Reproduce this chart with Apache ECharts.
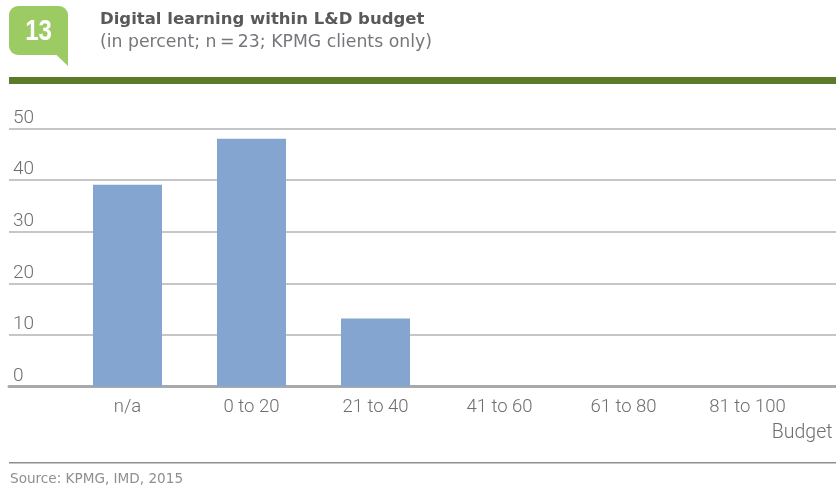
<!DOCTYPE html>
<html>
<head>
<meta charset="utf-8">
<script src="https://cdn.jsdelivr.net/npm/echarts@6/dist/echarts.min.js"></script>
<style>
  html, body { margin: 0; padding: 0; background: #ffffff; }
  #chart { width: 836px; height: 489px; }
</style>
</head>
<body>
<div id="chart"></div>
<script>
// Share of digital learning in the L&D budget (percent of respondents)
const categories = ['n/a', '0 to 20', '21 to 40', '41 to 60', '61 to 80', '81 to 100'];
const shares = [39.1, 48.0, 13.2, 0, 0, 0];
const yTicks = [0, 10, 20, 30, 40, 50];

const figureNo = '13';
const titleText = 'Digital learning within L&D budget';
const subtitleText = '(in percent; n\u2009=\u200923; KPMG clients only)';
const axisTitle = 'Budget';
const sourceText = 'Source: KPMG, IMD, 2015';

const FONT = 'Roboto, "Liberation Sans", Arial, sans-serif';
const SANS = '"Liberation Sans", Arial, sans-serif';
const WIDE = '"DejaVu Sans", "Liberation Sans", sans-serif';
const TEXT_GREY = '#6d6e71';

const chart = echarts.init(document.getElementById('chart'), null, { renderer: 'canvas' });

const yMin = yTicks[0];
const yMax = yTicks[yTicks.length - 1];
const yStep = yTicks[1] - yTicks[0];

chart.setOption({
  animation: false,
  backgroundColor: '#ffffff',
  grid: [
    // full-width grid carrying the gridlines, tick labels and base line
    { left: 9, right: 0, top: 128.5, bottom: 102.5 },
    // narrower grid carrying the bars and category labels
    { left: 65.5, right: 26.5, top: 128.5, bottom: 102.5 }
  ],
  xAxis: [
    {
      gridIndex: 0, type: 'value', min: 0, max: 1,
      axisLine: { show: true, lineStyle: { color: '#a7a9ac', width: 3 } },
      axisTick: { show: false }, axisLabel: { show: false }, splitLine: { show: false }
    },
    {
      gridIndex: 1, type: 'category', data: categories,
      axisLine: { show: false }, axisTick: { show: false },
      axisLabel: {
        margin: 11, color: TEXT_GREY, fontSize: 18.5, fontFamily: FONT, fontWeight: 300
      }
    }
  ],
  yAxis: [
    {
      gridIndex: 0, type: 'value', min: yMin, max: yMax, interval: yStep,
      axisLine: { show: false }, axisTick: { show: false },
      axisLabel: {
        inside: true, margin: 4, color: TEXT_GREY, fontSize: 19, fontFamily: FONT,
        fontWeight: 300, align: 'left', verticalAlign: 'bottom', padding: [0, 0, 1, 0]
      },
      splitLine: { show: true, lineStyle: { color: '#b1b3b5', width: 1.5 } }
    },
    {
      gridIndex: 1, type: 'value', min: yMin, max: yMax, interval: yStep, show: false,
      splitLine: { show: false }
    }
  ],
  series: [
    {
      type: 'bar', xAxisIndex: 1, yAxisIndex: 1, data: shares, barWidth: 69,
      itemStyle: { color: '#83a5d0' }, silent: true, z: 1
    }
  ],
  graphic: [
    // figure number badge
    {
      type: 'rect', shape: { x: 9, y: 6, width: 59, height: 49, r: [9, 9, 0, 9] },
      style: { fill: '#9ccb64' }
    },
    {
      type: 'polygon', shape: { points: [[56, 54.5], [68, 54.5], [68, 66]] },
      style: { fill: '#9ccb64' }
    },
    {
      type: 'text', x: 38.5, y: 31.5, scaleX: 0.8,
      style: {
        text: figureNo, fill: '#ffffff', font: 'bold 30px ' + SANS,
        align: 'center', verticalAlign: 'middle'
      }
    },
    {
      type: 'text', x: 100, y: 19.5,
      style: {
        text: titleText, fill: '#58595b', font: 'bold 16.5px ' + WIDE,
        align: 'left', verticalAlign: 'middle'
      }
    },
    {
      type: 'text', x: 100, y: 43,
      style: {
        text: subtitleText, fill: '#76777a', font: '17.3px ' + WIDE,
        align: 'left', verticalAlign: 'middle'
      }
    },
    // header rule
    {
      type: 'rect', shape: { x: 9, y: 77, width: 827, height: 7 },
      style: { fill: '#5b7b2b' }
    },
    {
      type: 'text', x: 832.5, y: 433,
      style: {
        text: axisTitle, fill: TEXT_GREY, font: '300 19.5px ' + FONT,
        align: 'right', verticalAlign: 'middle'
      }
    },
    // footer rule and source line
    {
      type: 'rect', shape: { x: 9, y: 462, width: 827, height: 1.5 },
      style: { fill: '#8d8f92' }
    },
    {
      type: 'text', x: 10, y: 479.5,
      style: {
        text: sourceText, fill: '#8d8f92', font: '13.6px ' + WIDE,
        align: 'left', verticalAlign: 'middle'
      }
    }
  ]
});
</script>
</body>
</html>
